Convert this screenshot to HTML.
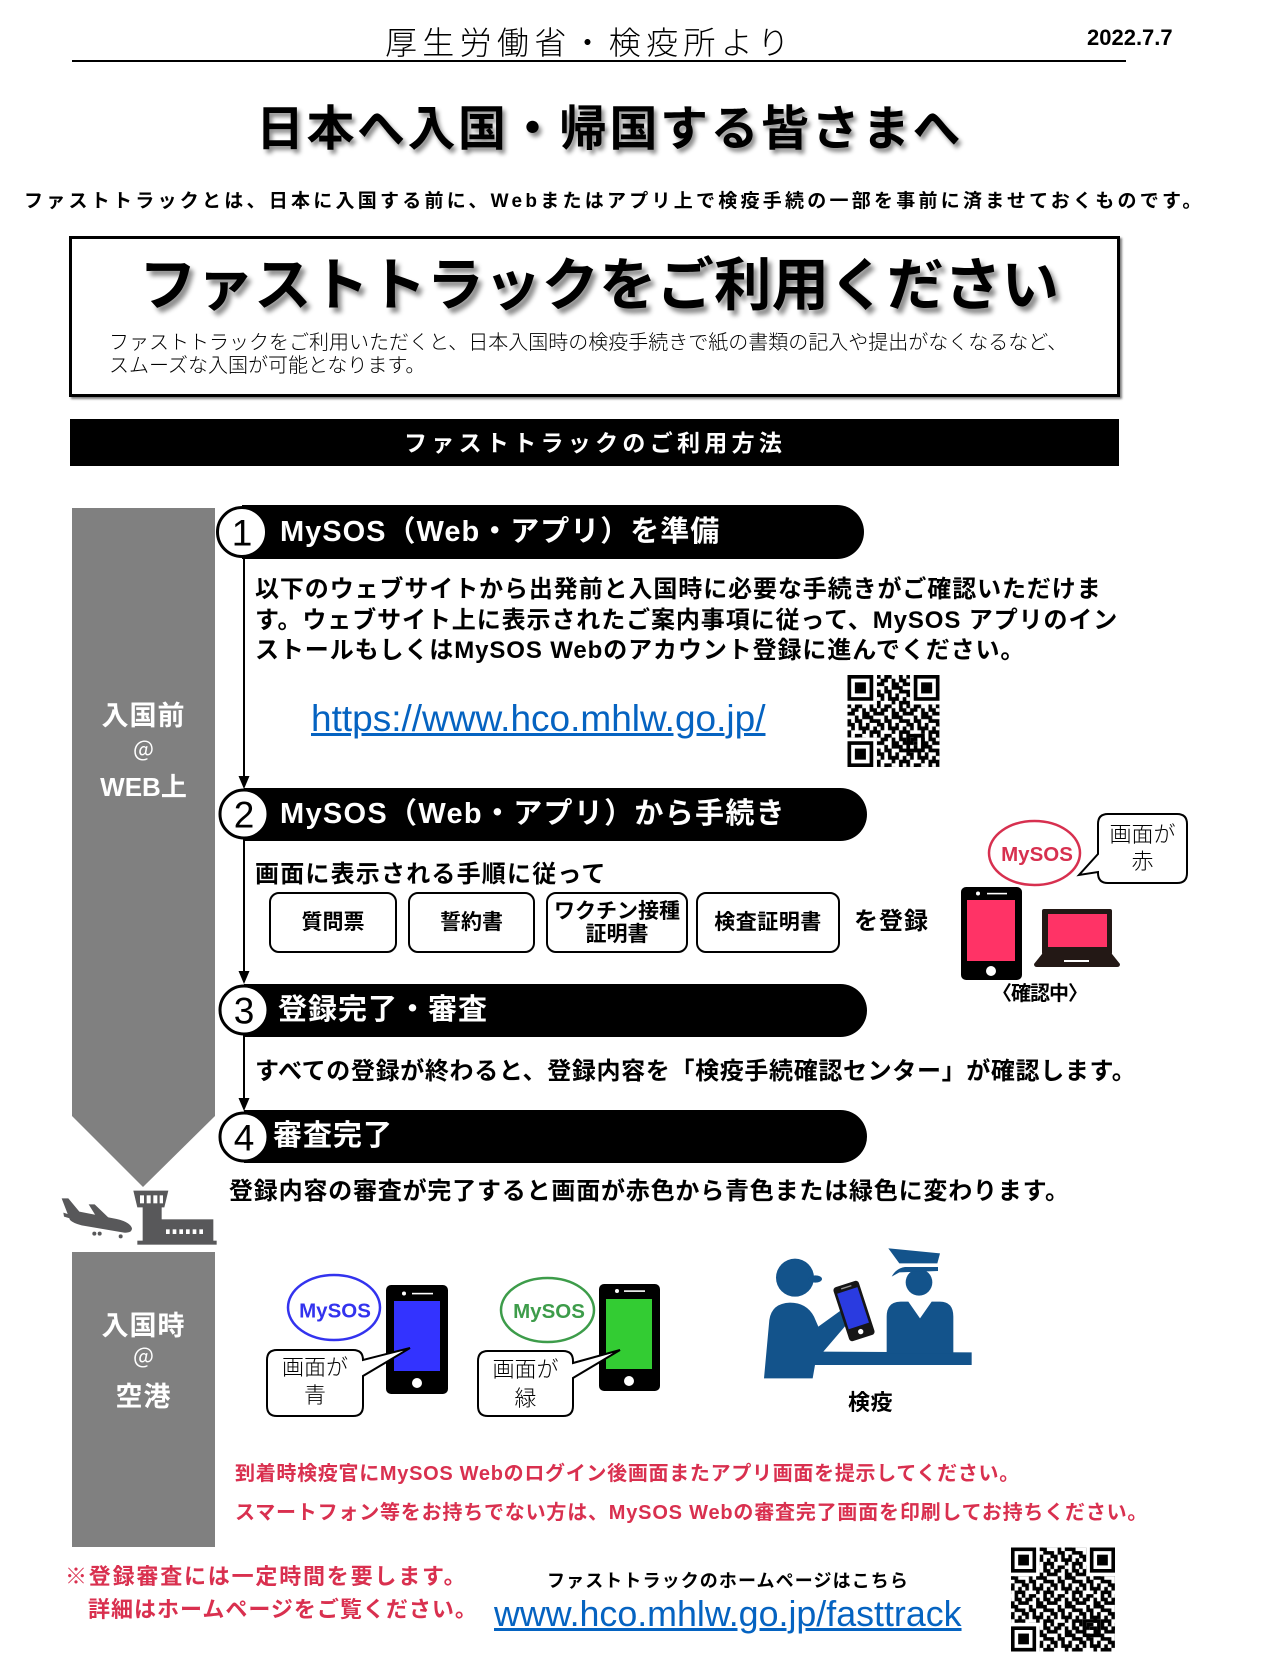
<!DOCTYPE html>
<html><head><meta charset="utf-8">
<style>
*{margin:0;padding:0;box-sizing:border-box}
html,body{width:1281px;height:1659px;background:#fff;overflow:hidden}
body{position:relative;font-family:"Liberation Sans","Noto Sans CJK JP",sans-serif;color:#000}
.a{position:absolute;white-space:nowrap}
.b{font-weight:bold}
.w{color:#fff}
.r{color:#d9304f}
.box{position:absolute;border:2px solid #000;border-radius:10px;display:flex;align-items:center;justify-content:center;text-align:center;font-weight:bold;font-size:21px;line-height:23px;background:#fff}
.gl{position:absolute;left:72px;width:143px;text-align:center;color:#fff;white-space:nowrap}
.tt{position:absolute;color:#fff;font-weight:bold;font-size:29px;letter-spacing:1px;white-space:nowrap}
.bt{position:absolute;text-align:center;font-weight:300;font-size:22px;white-space:nowrap}
</style></head><body>

<svg class="a" style="left:0;top:0" width="1281" height="1659" viewBox="0 0 1281 1659">
<defs>
<pattern id="qp" width="8" height="8" patternUnits="userSpaceOnUse"><path d="M0 0h1v1h-1zM2 0h2v1h-2zM6 0h1v1h-1zM1 1h2v1h-2zM4 1h1v1h-1zM6 1h2v1h-2zM0 2h2v1h-2zM4 2h2v1h-2zM7 2h1v1h-1zM2 3h1v1h-1zM4 3h3v1h-3zM0 4h1v1h-1zM2 4h2v1h-2zM6 4h2v1h-2zM0 5h2v1h-2zM3 5h1v1h-1zM5 5h1v1h-1zM1 6h1v1h-1zM3 6h3v1h-3zM7 6h1v1h-1zM0 7h1v1h-1zM4 7h1v1h-1zM6 7h2v1h-2z"/></pattern>
<pattern id="qp2" width="8" height="8" patternUnits="userSpaceOnUse" patternTransform="translate(3 5)"><path d="M0 0h1v1h-1zM2 0h2v1h-2zM6 0h1v1h-1zM1 1h2v1h-2zM4 1h1v1h-1zM6 1h2v1h-2zM0 2h2v1h-2zM4 2h2v1h-2zM7 2h1v1h-1zM2 3h1v1h-1zM4 3h3v1h-3zM0 4h1v1h-1zM2 4h2v1h-2zM6 4h2v1h-2zM0 5h2v1h-2zM3 5h1v1h-1zM5 5h1v1h-1zM1 6h1v1h-1zM3 6h3v1h-3zM7 6h1v1h-1zM0 7h1v1h-1zM4 7h1v1h-1zM6 7h2v1h-2z"/></pattern>
</defs>

<!-- grey side bars -->
<polygon points="72,508 215,508 215,1116 143,1187 72,1116" fill="#808080"/>
<rect x="72" y="1252" width="143" height="295" fill="#808080"/>

<!-- connectors -->
<line x1="244" y1="556" x2="244" y2="778" stroke="#000" stroke-width="2"/>
<polygon points="238.5,776 249.5,776 244,789" fill="#000"/>
<line x1="244" y1="839" x2="244" y2="973" stroke="#000" stroke-width="2"/>
<polygon points="238.5,971 249.5,971 244,984" fill="#000"/>
<line x1="244" y1="1035" x2="244" y2="1100" stroke="#000" stroke-width="2"/>
<polygon points="238.5,1098 249.5,1098 244,1111" fill="#000"/>

<!-- pills -->
<path d="M242,505 H837 A27,27 0 0 1 837,559 H242 Z" fill="#000"/>
<path d="M244,788 H840.5 A26.5,26.5 0 0 1 840.5,841 H244 Z" fill="#000"/>
<path d="M244,984 H840.5 A26.5,26.5 0 0 1 840.5,1037 H244 Z" fill="#000"/>
<path d="M244,1110 H840.5 A26.5,26.5 0 0 1 840.5,1163 H244 Z" fill="#000"/>

<!-- number circles -->
<circle cx="242" cy="532" r="24.5" fill="#fff" stroke="#000" stroke-width="3"/>
<circle cx="244" cy="814" r="24" fill="#fff" stroke="#000" stroke-width="3"/>
<circle cx="244" cy="1010" r="24" fill="#fff" stroke="#000" stroke-width="3"/>
<circle cx="244" cy="1137" r="24" fill="#fff" stroke="#000" stroke-width="3"/>
<text x="242" y="545.5" font-size="37" text-anchor="middle">1</text>
<text x="244" y="827.5" font-size="37" text-anchor="middle">2</text>
<text x="244" y="1023.5" font-size="37" text-anchor="middle">3</text>
<text x="244" y="1150.5" font-size="37" text-anchor="middle">4</text>

<!-- QR 1 -->
<svg x="847" y="675" width="93" height="92" viewBox="0 0 25 25">
<rect width="25" height="25" fill="url(#qp)"/>
<rect width="8" height="8" fill="#fff"/><rect x="17" width="8" height="8" fill="#fff"/><rect y="17" width="8" height="8" fill="#fff"/>
<path fill-rule="evenodd" d="M0 0h7v7h-7zM1 1v5h5v-5z"/><rect x="2" y="2" width="3" height="3"/>
<path fill-rule="evenodd" d="M18 0h7v7h-7zM19 1v5h5v-5z"/><rect x="20" y="2" width="3" height="3"/>
<path fill-rule="evenodd" d="M0 18h7v7h-7zM1 19v5h5v-5z"/><rect x="2" y="20" width="3" height="3"/>
<path fill-rule="evenodd" d="M16 16h5v5h-5zM17 17v3h3v-3z" fill="#000"/><rect x="18" y="18" width="1" height="1"/>
</svg>

<!-- QR 2 -->
<svg x="1011" y="1547" width="104" height="105" viewBox="0 0 29 29">
<rect width="29" height="29" fill="url(#qp2)"/>
<rect width="8" height="8" fill="#fff"/><rect x="21" width="8" height="8" fill="#fff"/><rect y="21" width="8" height="8" fill="#fff"/>
<path fill-rule="evenodd" d="M0 0h7v7h-7zM1 1v5h5v-5z"/><rect x="2" y="2" width="3" height="3"/>
<path fill-rule="evenodd" d="M22 0h7v7h-7zM23 1v5h5v-5z"/><rect x="24" y="2" width="3" height="3"/>
<path fill-rule="evenodd" d="M0 22h7v7h-7zM1 23v5h5v-5z"/><rect x="2" y="24" width="3" height="3"/>
<path fill-rule="evenodd" d="M20 20h5v5h-5zM21 21v3h3v-3z"/><rect x="22" y="22" width="1" height="1"/>
</svg>

<!-- red phone / laptop -->
<rect x="961" y="887" width="61" height="93" rx="5" fill="#000"/>
<rect x="967" y="900" width="48" height="61" fill="#ff3366"/>
<circle cx="978" cy="893.5" r="2" fill="#fff"/>
<rect x="987" y="892.8" width="20" height="1.6" fill="#fff"/>
<circle cx="991" cy="971" r="5" fill="#fff"/>
<rect x="1042" y="909" width="70" height="46" rx="2" fill="#231815"/>
<rect x="1048" y="914" width="59" height="33" fill="#ff3366"/>
<path d="M1042,954 H1112 L1120,964 Q1120,967 1117,967 H1037 Q1034,967 1034,964 Z" fill="#231815"/>
<rect x="1064" y="960" width="25" height="2" fill="#fff"/>
<ellipse cx="1034.5" cy="853" rx="45.5" ry="32" fill="#fff" stroke="#d7304f" stroke-width="2.5"/>
<text x="1037" y="861" font-size="20.5" fill="#d7304f" text-anchor="middle" font-weight="bold">MySOS</text>
<path d="M1108,814 H1177 Q1187,814 1187,824 V873 Q1187,883 1177,883 H1108 Q1098,883 1098,873 V872 L1079,875 L1098,854 V824 Q1098,814 1108,814 Z" fill="#fff" stroke="#000" stroke-width="2"/>

<!-- blue phone -->
<ellipse cx="334" cy="1307.5" rx="46" ry="32.5" fill="#fff" stroke="#3333ee" stroke-width="2.5"/>
<text x="335" y="1317.5" font-size="20.5" fill="#3333ee" text-anchor="middle" font-weight="bold">MySOS</text>
<rect x="386" y="1285" width="62" height="109" rx="5" fill="#000"/>
<rect x="394" y="1301" width="46" height="70" fill="#3333ff"/>
<circle cx="404" cy="1293.5" r="2" fill="#fff"/>
<rect x="412" y="1292.8" width="21" height="1.6" fill="#fff"/>
<circle cx="417" cy="1383" r="5" fill="#fff"/>
<path d="M277,1350 H353 Q363,1350 363,1360 L410,1348 L363,1376 V1406 Q363,1416 353,1416 H277 Q267,1416 267,1406 V1360 Q267,1350 277,1350 Z" fill="#fff" stroke="#000" stroke-width="2"/>

<!-- green phone -->
<ellipse cx="547.5" cy="1310" rx="46.5" ry="32" fill="#fff" stroke="#3d9c4a" stroke-width="2.5"/>
<text x="549" y="1318" font-size="20.5" fill="#3d9c4a" text-anchor="middle" font-weight="bold">MySOS</text>
<rect x="599" y="1284" width="61" height="107" rx="5" fill="#000"/>
<rect x="606" y="1299" width="46" height="70" fill="#33cc33"/>
<circle cx="617" cy="1291" r="2" fill="#fff"/>
<rect x="624" y="1290.3" width="21" height="1.6" fill="#fff"/>
<circle cx="629" cy="1381" r="5" fill="#fff"/>
<path d="M488,1351 H563 Q573,1351 573,1361 V1363 L620,1350 L573,1378 V1406 Q573,1416 563,1416 H488 Q478,1416 478,1406 V1361 Q478,1351 488,1351 Z" fill="#fff" stroke="#000" stroke-width="2"/>

<!-- airplane & tower -->
<svg x="50" y="1170" width="180" height="90" viewBox="0 0 540 270">
<g fill="#58585a">
<path d="M35,85 L55,85 L88,125 L200,147 Q240,156 246,175 Q246,189 222,188 L95,166 Q70,160 60,150 Z"/>
<path d="M116,103 L134,103 L186,153 L150,158 Z"/>
<path d="M40,128 L78,140 L82,152 L42,140 Z"/>
<circle cx="133" cy="191" r="6"/><circle cx="149" cy="191" r="6"/><circle cx="212" cy="199" r="6"/>
<path d="M250,62 H355 L343,112 H262 Z"/>
<rect x="278" y="110" width="57" height="108"/>
<rect x="333" y="148" width="157" height="70"/>
<rect x="262" y="212" width="238" height="12"/>
</g>
<g fill="#fff">
<rect x="270" y="76" width="12" height="24"/><rect x="290" y="76" width="12" height="24"/><rect x="310" y="76" width="12" height="24"/><rect x="329" y="76" width="10" height="24"/>
<rect x="348" y="178" width="11" height="14"/><rect x="368" y="178" width="11" height="14"/><rect x="388" y="178" width="11" height="14"/><rect x="408" y="178" width="11" height="14"/><rect x="428" y="178" width="11" height="14"/><rect x="448" y="178" width="11" height="14"/>
</g>
</svg>

<!-- inspection illustration -->
<svg x="740" y="1235" width="260" height="150" viewBox="0 0 780 450">
<g fill="#13538b">
<circle cx="165" cy="128" r="57"/>
<ellipse cx="226" cy="132" rx="20" ry="11"/>
<path d="M72,430 L88,255 Q95,205 150,203 Q200,203 222,245 L235,275 L300,228 L320,268 L250,350 L695,352 L695,390 L225,390 L218,430 Z"/>
<path d="M445,40 L600,55 L592,85 L478,85 Z"/>
<circle cx="537" cy="142" r="40"/>
<path d="M455,125 Q468,100 495,96 L594,96 L594,108 L478,112 Z"/>
<path d="M440,355 L440,245 Q440,200 482,200 L505,200 L540,250 L575,200 L600,200 Q640,200 640,245 L640,355 Z"/>
</g>
<g transform="rotate(-18 342 228)">
<rect x="302" y="143" width="80" height="170" rx="10" fill="#161616"/>
<rect x="310" y="163" width="64" height="112" fill="#2a3be0"/>
<circle cx="342" cy="293" r="8" fill="#fff"/>
<rect x="326" y="151" width="32" height="4" fill="#999"/>
</g>
</svg>
</svg>

<!-- header -->
<div class="a" style="left:385px;top:27px;font-size:32px;line-height:32px;letter-spacing:5.3px;font-weight:300">厚生労働省・検疫所より</div>
<div class="a b" style="left:1087px;top:27px;font-size:22px;line-height:22px">2022.7.7</div>
<div class="a" style="left:72px;top:60px;width:1054px;height:1.5px;background:#000"></div>

<div class="a b" style="left:256px;top:106px;font-size:48px;line-height:48px;letter-spacing:2.5px;text-shadow:3px 4px 4px rgba(0,0,0,.45)">日本へ入国・帰国する皆さまへ</div>

<div class="a b" style="left:24px;top:191.5px;font-size:19px;line-height:19px;letter-spacing:3.25px">ファストトラックとは、日本に入国する前に、Webまたはアプリ上で検疫手続の一部を事前に済ませておくものです。</div>

<div class="a" style="left:69px;top:236px;width:1051px;height:161px;border:3px solid #000;box-shadow:2px 2px 2px rgba(0,0,0,.5)"></div>
<div class="a b" style="left:139px;top:257px;font-size:57.5px;line-height:58px;text-shadow:4px 5px 5px rgba(0,0,0,.45)">ファストトラックをご利用ください</div>
<div class="a" style="left:109px;top:332px;font-size:20px;line-height:23px;font-weight:300">ファストトラックをご利用いただくと、日本入国時の検疫手続きで紙の書類の記入や提出がなくなるなど、<br>スムーズな入国が可能となります。</div>

<div class="a" style="left:70px;top:419px;width:1049px;height:47px;background:#000"></div>
<div class="a b w" style="left:404px;top:431.5px;font-size:23px;line-height:23px;letter-spacing:4.3px">ファストトラックのご利用方法</div>

<!-- grey bar labels -->
<div class="gl b" style="top:703px;font-size:27px;line-height:27px;letter-spacing:1px">入国前</div>
<div class="gl" style="top:741px;font-size:22px;line-height:22px">＠</div>
<div class="gl b" style="top:774px;font-size:26px;line-height:26px">WEB上</div>
<div class="gl b" style="top:1313px;font-size:27px;line-height:27px;letter-spacing:1px">入国時</div>
<div class="gl" style="top:1348px;font-size:22px;line-height:22px">＠</div>
<div class="gl b" style="top:1384px;font-size:27px;line-height:27px;letter-spacing:1px">空港</div>

<!-- step titles -->
<div class="tt" style="left:280px;top:505px;line-height:54px">MySOS（Web・アプリ）を準備</div>
<div class="tt" style="left:280px;top:788px;line-height:53px;letter-spacing:1.3px">MySOS（Web・アプリ）から手続き</div>
<div class="tt" style="left:278px;top:984px;line-height:53px">登録完了・審査</div>
<div class="tt" style="left:273px;top:1110px;line-height:53px">審査完了</div>

<!-- step 1 body -->
<div class="a b" style="left:255px;top:575.3px;font-size:24px;line-height:30.5px;letter-spacing:0.9px">以下のウェブサイトから出発前と入国時に必要な手続きがご確認いただけま<br>す。ウェブサイト上に表示されたご案内事項に従って、MySOS アプリのイン<br>ストールもしくはMySOS Webのアカウント登録に進んでください。</div>
<div class="a" style="left:311px;top:699.5px;font-size:37px;line-height:37px;color:#0563c1;text-decoration:underline">https://www.hco.mhlw.go.jp/</div>

<!-- step 2 body -->
<div class="a b" style="left:255px;top:862.5px;font-size:24px;line-height:24px;letter-spacing:1.2px">画面に表示される手順に従って</div>
<div class="box" style="left:269px;top:892px;width:128px;height:61px">質問票</div>
<div class="box" style="left:408px;top:892px;width:127px;height:61px">誓約書</div>
<div class="box" style="left:546px;top:892px;width:142px;height:61px">ワクチン接種<br>証明書</div>
<div class="box" style="left:696px;top:892px;width:144px;height:61px;letter-spacing:0.5px">検査証明書</div>
<div class="a b" style="left:854px;top:909.5px;font-size:24px;line-height:24px;letter-spacing:1px">を登録</div>
<div class="a b" style="left:992px;top:984px;font-size:20px;line-height:20px;letter-spacing:-1px">〈確認中〉</div>

<div class="bt" style="left:1098px;top:821px;width:89px;line-height:27px">画面が<br>赤</div>
<div class="bt" style="left:267px;top:1354px;width:96px;line-height:28px">画面が<br>青</div>
<div class="bt" style="left:478px;top:1355px;width:95px;line-height:29px">画面が<br>緑</div>

<!-- step 3/4 body -->
<div class="a b" style="left:255px;top:1059.5px;font-size:24px;line-height:24px;letter-spacing:0.65px">すべての登録が終わると、登録内容を「検疫手続確認センター」が確認します。</div>
<div class="a b" style="left:229px;top:1179.5px;font-size:24px;line-height:24px;letter-spacing:0.8px">登録内容の審査が完了すると画面が赤色から青色または緑色に変わります。</div>

<div class="a b" style="left:848px;top:1391.6px;font-size:22px;line-height:22px;letter-spacing:0.5px">検疫</div>

<!-- red notes -->
<div class="a b r" style="left:235px;top:1463.6px;font-size:20px;line-height:20px;letter-spacing:0.7px">到着時検疫官にMySOS Webのログイン後画面またアプリ画面を提示してください。</div>
<div class="a b r" style="left:235px;top:1502.6px;font-size:20px;line-height:20px;letter-spacing:0.8px">スマートフォン等をお持ちでない方は、MySOS Webの審査完了画面を印刷してお持ちください。</div>

<div class="a b r" style="left:65px;top:1565.5px;font-size:22px;line-height:22px;letter-spacing:1.8px">※登録審査には一定時間を要します。</div>
<div class="a b r" style="left:88px;top:1598.5px;font-size:22px;line-height:22px;letter-spacing:1.0px">詳細はホームページをご覧ください。</div>

<div class="a b" style="left:547px;top:1571.6px;font-size:18px;line-height:18px;letter-spacing:1.1px">ファストトラックのホームページはこちら</div>
<div class="a" style="left:494px;top:1596.5px;font-size:35.8px;line-height:35.8px;color:#0563c1;text-decoration:underline">www.hco.mhlw.go.jp/fasttrack</div>

</body></html>
